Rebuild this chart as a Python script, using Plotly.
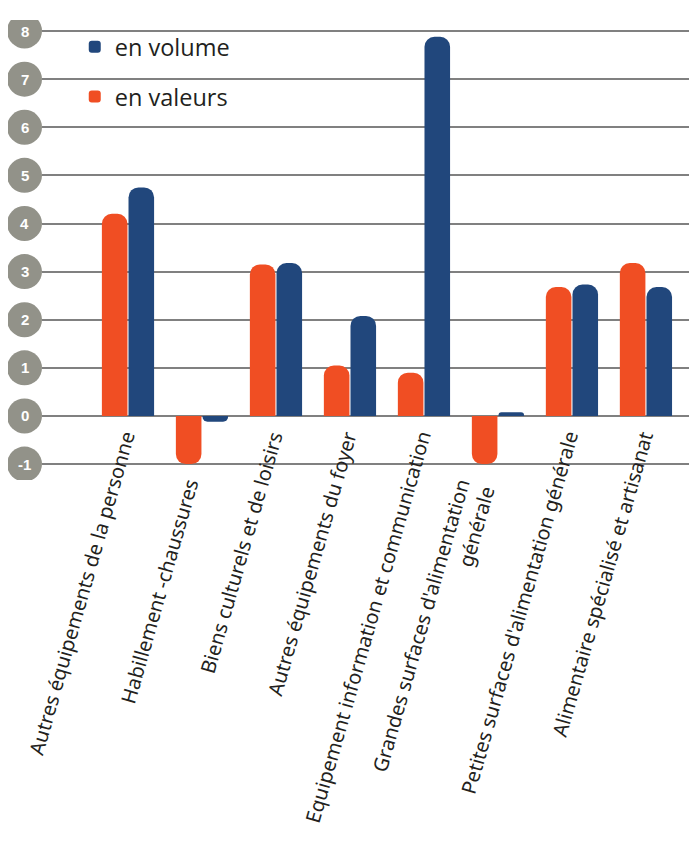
import plotly.graph_objects as go

categories = [
    "Autres équipements de la personne",
    "Habillement -chaussures",
    "Biens culturels et de loisirs",
    "Autres équipements du foyer",
    "Equipement information et communication",
    "Grandes surfaces d'alimentation<br>générale",
    "Petites surfaces d'alimentation générale",
    "Alimentaire spécialisé et artisanat",
]
en_valeurs = [4.2, -1.0, 3.15, 1.05, 0.9, -1.0, 2.68, 3.18]
en_volume = [4.75, -0.12, 3.18, 2.08, 7.88, 0.08, 2.73, 2.68]
y_ticks = [-1, 0, 1, 2, 3, 4, 5, 6, 7, 8]

ORANGE = "#F04E23"
BLUE = "#21477C"
GRID = "#808080"
CIRCLE = "#929289"
TEXT = "#231F20"

x_idx = list(range(len(categories)))

fig = go.Figure()
fig.add_trace(go.Bar(x=x_idx, y=en_valeurs, name="en valeurs", marker_color=ORANGE,
                     marker_line_width=0, legendgroup="b", legendrank=2))
fig.add_trace(go.Bar(x=x_idx, y=en_volume, name="en volume", marker_color=BLUE,
                     marker_line_width=0, legendgroup="a", legendrank=1))

shapes = []
annotations = []
for v in y_ticks:
    shapes.append(dict(type="circle", xref="paper", yref="y", xsizemode="pixel", ysizemode="pixel",
                       xanchor=0, yanchor=v, x0=-35, x1=0, y0=-17.5, y1=17.5,
                       fillcolor=CIRCLE, line_width=0, layer="above"))
    annotations.append(dict(x=0, xref="paper", xshift=-17.5, y=v, yref="y", text=str(v),
                            showarrow=False, xanchor="center", yanchor="middle",
                            font=dict(family="Arial", size=15, color="white", weight="bold")))

for i, cat in enumerate(categories):
    low = min(0, en_valeurs[i], en_volume[i])
    neg = low < -0.5
    annotations.append(dict(x=i, xref="x", y=low, yref="y", yshift=-10,
                            xshift=(5 if neg else 15), text=cat, textangle=-74,
                            showarrow=False, xanchor="right", yanchor="top", align="right",
                            font=dict(family="Noto Sans", size=20, color=TEXT)))

fig.update_layout(
    width=689, height=838,
    margin=dict(l=34, r=0, t=12, b=366, autoexpand=False),
    paper_bgcolor="white", plot_bgcolor="white",
    barmode="group", bargap=0.28, bargroupgap=0.04, barcornerradius=10,
    xaxis=dict(range=[-1.162, 7.69], showticklabels=False, showgrid=False, zeroline=False,
               ticks=""),
    yaxis=dict(range=[-1.330, 8.2286], tickvals=y_ticks, showticklabels=False,
               showgrid=True, gridcolor=GRID, gridwidth=2,
               zeroline=True, zerolinecolor=GRID, zerolinewidth=2, ticks=""),
    showlegend=True,
    legend=dict(x=0.05, y=0.989, xanchor="left", yanchor="top",
                traceorder="grouped", tracegroupgap=16,
                font=dict(family="Open Sans", size=23.5, color=TEXT),
                bgcolor="rgba(0,0,0,0)", itemwidth=30),
    shapes=shapes,
    annotations=annotations,
)

fig.write_html("out.html")
